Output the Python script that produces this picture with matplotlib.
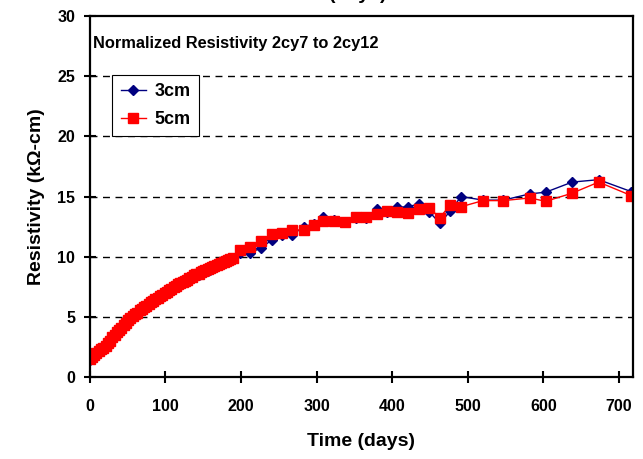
import matplotlib.pyplot as plt
import numpy as np

plt.rcParams['font.family'] = ['Liberation Sans', 'DejaVu Sans']
plt.rcParams['font.weight'] = 'bold'

# early, densely sampled part
days_early = [0, 3, 6, 9, 12, 15, 18, 21, 24, 27, 30, 33, 36, 39, 42, 45, 48, 51, 54, 57,
              60, 63, 66, 69, 72, 75, 78, 81, 84, 87, 90, 93, 96, 99, 102, 105, 108, 111,
              114, 117, 120, 123, 126, 129, 132, 135, 138, 141, 144, 147, 150, 153, 156,
              159, 162, 165, 168, 171, 174, 177, 180, 183, 186, 189]
cm5_early = [1.5, 1.7, 1.85, 2.0, 2.15, 2.3, 2.45, 2.6, 2.8, 3.0, 3.3, 3.5, 3.7, 3.9, 4.1,
             4.3, 4.5, 4.7, 4.9, 5.05, 5.2, 5.35, 5.55, 5.65, 5.8, 5.9, 6.05, 6.2, 6.35,
             6.5, 6.6, 6.7, 6.85, 6.95, 7.1, 7.25, 7.35, 7.5, 7.55, 7.7, 7.8, 7.9, 8.0,
             8.1, 8.2, 8.3, 8.45, 8.55, 8.6, 8.75, 8.85, 8.9, 9.0, 9.05, 9.15, 9.25, 9.35,
             9.4, 9.5, 9.55, 9.65, 9.7, 9.8, 9.85]
cm3_early = [1.45, 1.65, 1.8, 1.95, 2.1, 2.25, 2.4, 2.55, 2.75, 2.95, 3.25, 3.45, 3.65, 3.85,
             4.05, 4.25, 4.45, 4.65, 4.85, 5.0, 5.15, 5.3, 5.5, 5.6, 5.75, 5.85, 6.0, 6.15,
             6.3, 6.45, 6.55, 6.65, 6.8, 6.9, 7.05, 7.2, 7.3, 7.45, 7.5, 7.65, 7.75, 7.85,
             7.95, 8.05, 8.15, 8.25, 8.35, 8.45, 8.5, 8.6, 8.65, 8.7, 8.8, 8.9, 9.0, 9.1,
             9.2, 9.3, 9.4, 9.5, 9.6, 9.65, 9.75, 9.8]

# later, sparser part
days_late = [199, 212, 227, 241, 254, 268, 283, 296, 309, 323, 337, 352, 365, 380, 393, 407,
             421, 435, 449, 463, 477, 491, 520, 547, 582, 603, 638, 673, 716]
cm5_late = [10.56, 10.83, 11.33, 11.89, 12.0, 12.2, 12.22, 12.63, 13.0, 13.0, 12.9, 13.3,
            13.3, 13.55, 13.8, 13.73, 13.67, 13.96, 14.04, 13.25, 14.32, 14.15, 14.66,
            14.66, 14.88, 14.6, 15.28, 16.2, 15.08]
cm3_late = [10.28, 10.3, 10.75, 11.39, 11.8, 11.8, 12.5, 12.7, 13.3, 13.05, 12.9, 13.2,
            13.25, 14.0, 13.7, 14.1, 14.15, 14.38, 13.73, 12.78, 13.8, 15.0, 14.7, 14.7,
            15.22, 15.36, 16.2, 16.4, 15.41]

days = days_early + days_late
cm3 = cm3_early + cm3_late
cm5 = cm5_early + cm5_late

fig = plt.figure(figsize=(6.43, 4.59), dpi=100)
ax = fig.add_axes([0.1394, 0.1786, 0.8446, 0.7865])

ax.plot(days, cm3, color='#000080', marker='D', markersize=5.5, linewidth=1, label='3cm')
ax.plot(days, cm5, color='#ff0000', marker='s', markersize=7.5, linewidth=1, label='5cm')

ax.set_xlim(0, 718)
ax.set_ylim(0, 30)
ax.set_xticks(np.arange(0, 701, 100))
ax.set_yticks(np.arange(0, 31, 5))
for y in [5, 10, 15, 20, 25]:
    ax.axhline(y, color='black', linewidth=1, dashes=(5, 4), zorder=0)

for s in ax.spines.values():
    s.set_linewidth(1.6)
ax.tick_params(direction='inout', length=9, width=1.5, labelsize=11.5, pad=6)
for lab in ax.get_xticklabels() + ax.get_yticklabels():
    lab.set_fontweight('bold')
ax.tick_params(axis='x', pad=11)

ax.set_xlabel('Time (days)', fontsize=14, fontweight='bold', labelpad=14)
ax.set_ylabel('Resistivity (kΩ-cm)', fontsize=14, fontweight='bold', labelpad=9)

ax.text(0.007, 0.925, 'Normalized Resistivity 2cy7 to 2cy12', transform=ax.transAxes,
        fontsize=11.8, fontweight='bold', va='center', ha='left')

leg = ax.legend(loc='upper left', bbox_to_anchor=(0.042, 0.837), borderaxespad=0,
                prop={'weight': 'bold', 'size': 13}, fancybox=False, framealpha=1,
                edgecolor='black', borderpad=0.45, handlelength=1.4, handletextpad=0.5,
                labelspacing=0.6)
leg.get_frame().set_linewidth(0.8)

# cut-off label from the chart above
fig.text(0.557, 1.003, '(days)', fontsize=14, fontweight='bold', ha='center', va='baseline')

fig.savefig('out.png', dpi=100)
